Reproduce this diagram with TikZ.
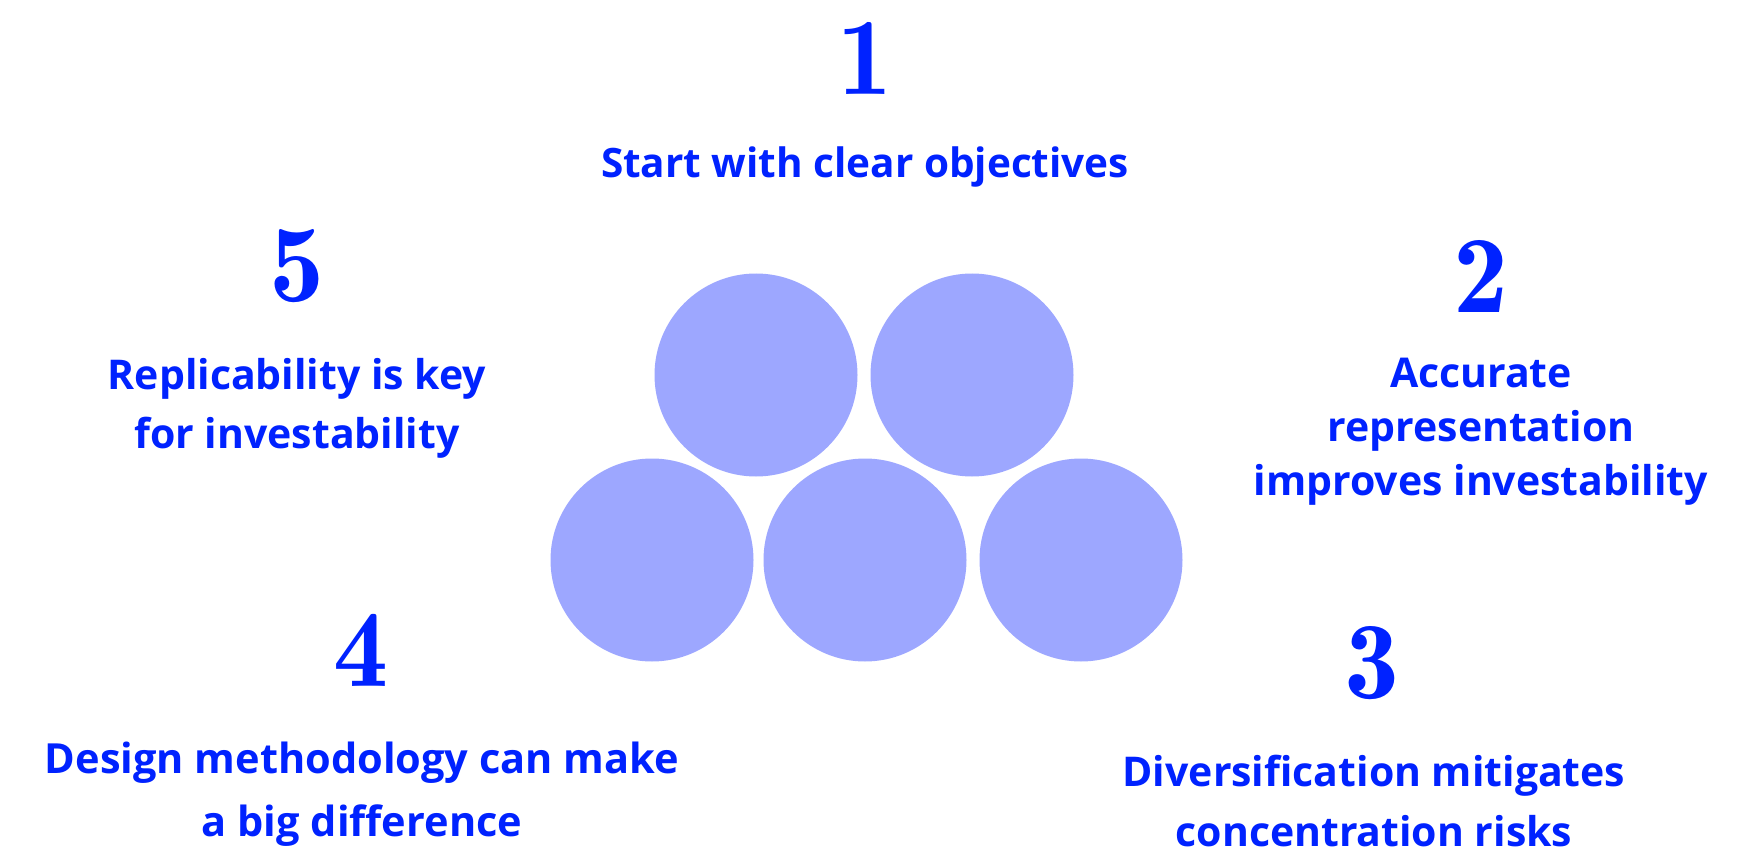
\documentclass[tikz,border=0pt]{standalone}
\usepackage{fontspec}
\setmainfont{Open Sans}
\newfontfamily\numfont{lmromandemi10-regular.otf}
\definecolor{txtblue}{HTML}{0022FF}
\definecolor{ballblue}{HTML}{9DA7FF}
\begin{document}
\begin{tikzpicture}[x=1pt,y=-1pt,
  ball/.style={circle,fill=ballblue,minimum size=203pt,inner sep=0pt},
  numlabel/.style={text=txtblue,font=\numfont\fontsize{110}{110}\selectfont,inner sep=0pt},
  caption/.style={text=txtblue,align=center,inner sep=0pt,anchor=base}]
\useasboundingbox (0,0) rectangle (1757,853);
% circles
\node[ball] (c1) at (756,375) {};
\node[ball] (c2) at (972,375) {};
\node[ball] (c3) at (652,560) {};
\node[ball] (c4) at (865,560) {};
\node[ball] (c5) at (1081,560) {};
% numbers
\node[numlabel] (n1) at (865,58) {1};
\node[numlabel] (n2) at (1481,276) {2};
\node[numlabel] (n3) at (1372,663) {3};
\node[numlabel] (n4) at (361,650) {4};
\node[numlabel] (n5) at (297,266) {5};
% captions (anchored at the baseline of their last line)
\node[caption,font=\bfseries\fontsize{40.5}{59}\selectfont] (t1) at (865,178) {Start with clear objectives};
\node[caption,font=\bfseries\fontsize{41}{54}\selectfont] (t2) at (1481,495) {Accurate\\representation\\improves investability};
\node[caption,font=\bfseries\fontsize{41}{60}\selectfont] (t3) at (1374,846) {Diversification mitigates\\concentration risks};
\node[caption,font=\bfseries\fontsize{41.5}{63}\selectfont] (t4) at (362,836) {Design methodology can make\\a big difference};
\node[caption,font=\bfseries\fontsize{41}{59}\selectfont] (t5) at (297,448) {Replicability is key\\for investability};
\end{tikzpicture}
\end{document}
